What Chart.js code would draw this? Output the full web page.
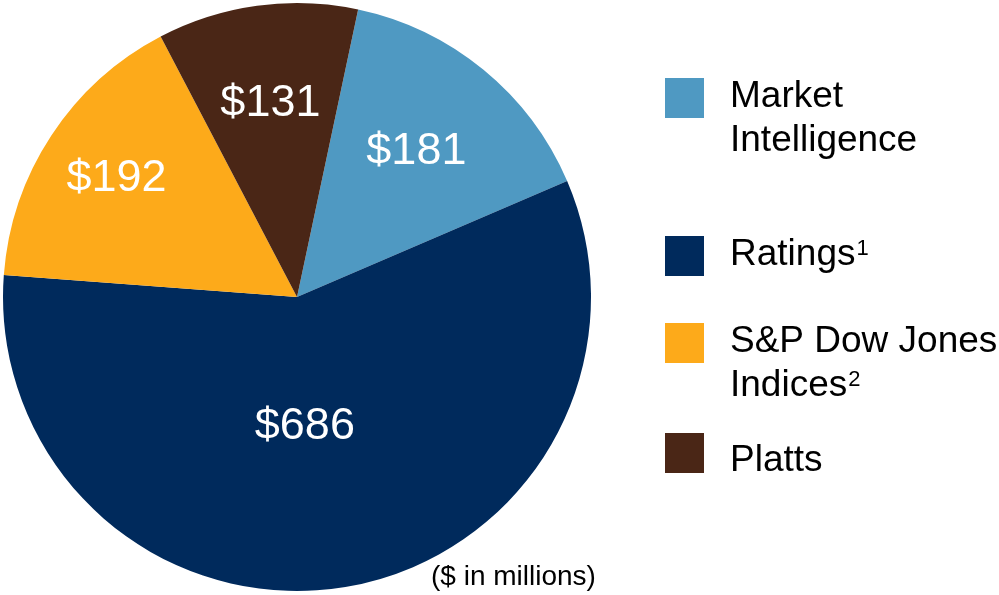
<!DOCTYPE html>
<html>
<head>
<meta charset="utf-8">
<script src="https://cdn.jsdelivr.net/npm/chart.js@4/dist/chart.umd.min.js"></script>
<style>
  html, body { margin: 0; padding: 0; background: #fff; }
  #wrap { width: 999px; height: 595px; }
</style>
</head>
<body>
<div id="wrap"><canvas id="revChart" width="999" height="595"></canvas></div>
<script>
// revenue by division ($ in millions)
var categories = ['Market Intelligence', 'Ratings', 'S&P Dow Jones Indices', 'Platts'];
var revenue = [181, 686, 192, 131];
var footnotes = ['', '1', '2', ''];
var legendLines = [['Market', 'Intelligence'], ['Ratings'], ['S&P Dow Jones', 'Indices'], ['Platts']];
var sliceColors = ['#4F99C2', '#002A5C', '#FDAA1A', '#4A2616'];

var FONT = '"Liberation Sans", Arial, Helvetica, sans-serif';

var sliceLabels = {
    id: 'sliceLabels',
    afterDatasetsDraw: function(chart, args, opts) {
        var ctx = chart.ctx;
        var arcs = chart.getDatasetMeta(0).data;
        ctx.save();
        ctx.fillStyle = '#fff';
        ctx.font = '45px ' + FONT;
        ctx.textAlign = 'center';
        ctx.textBaseline = 'middle';
        for (var i = 0; i < arcs.length; i++) {
            var a = arcs[i];
            var mid = (a.startAngle + a.endAngle) / 2 + (opts.shift[i] || 0) * Math.PI / 180;
            var r = a.outerRadius * opts.radius[i];
            var x = a.x + Math.cos(mid) * r;
            var y = a.y + Math.sin(mid) * r;
            ctx.fillText('$' + chart.data.datasets[0].data[i], x, y);
        }
        ctx.restore();
    }
};

var sideLegend = {
    id: 'sideLegend',
    afterDraw: function(chart, args, opts) {
        var ctx = chart.ctx;
        ctx.save();
        ctx.textBaseline = 'alphabetic';
        ctx.textAlign = 'left';
        for (var i = 0; i < legendLines.length; i++) {
            ctx.fillStyle = sliceColors[i];
            ctx.fillRect(opts.boxX, opts.boxTop[i], 39, 40);
            ctx.fillStyle = '#000';
            var lines = legendLines[i];
            var y = opts.baseline[i];
            for (var j = 0; j < lines.length; j++) {
                ctx.font = '37px ' + FONT;
                ctx.fillText(lines[j], opts.textX, y);
                if (j === lines.length - 1 && footnotes[i]) {
                    var w = ctx.measureText(lines[j]).width;
                    ctx.font = '22px ' + FONT;
                    ctx.fillText(footnotes[i], opts.textX + w + 1, y - 10);
                }
                y += 44;
            }
        }
        ctx.font = '28px ' + FONT;
        ctx.fillText('($ in millions)', 431, 585);
        ctx.restore();
    }
};

new Chart(document.getElementById('revChart'), {
    type: 'pie',
    data: {
        labels: categories,
        datasets: [{
            data: revenue,
            backgroundColor: sliceColors,
            borderWidth: 0
        }]
    },
    options: {
        responsive: false,
        animation: false,
        devicePixelRatio: 1,
        rotation: 12,
        layout: { padding: { left: 3, top: 3, right: 408, bottom: 4 } },
        plugins: {
            legend: { display: false },
            tooltip: { enabled: false },
            sliceLabels: { radius: [0.64, 0.44, 0.735, 0.665], shift: [0, 6, 0, 0] },
            sideLegend: {
                boxX: 665,
                textX: 730,
                boxTop: [78, 236, 323, 433],
                baseline: [107, 265, 352, 471]
            }
        }
    },
    plugins: [sliceLabels, sideLegend]
});
</script>
</body>
</html>
